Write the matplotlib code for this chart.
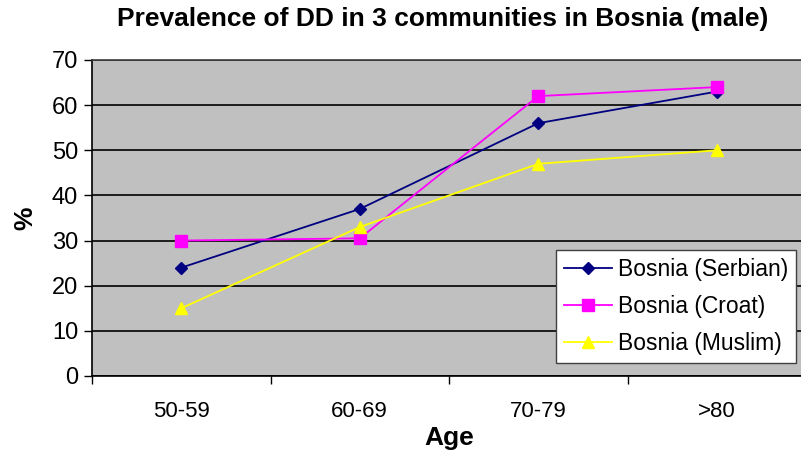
import matplotlib
matplotlib.use('Agg')
import matplotlib.pyplot as plt
import numpy as np

# Data
ages = ['50-59', '60-69', '70-79', '>80']
serbian = [24, 37, 56, 63]
croat = [30, 30.5, 62, 64]
muslim = [15, 33, 47, 50]

plt.rcParams['font.family'] = ['Liberation Sans', 'DejaVu Sans']

fig = plt.figure(figsize=(8.01, 4.57), dpi=100)
# axes placed in pixel terms: left 92, right ~806, top 60, bottom 376
W, H = 801, 457
ax = fig.add_axes([92 / W, (H - 376) / H, (806 - 92) / W, (376 - 60) / H])
ax.set_facecolor('#C0C0C0')

x = np.arange(len(ages))
ax.plot(x, serbian, color='#000080', marker='D', markersize=6, linewidth=1.3,
        label='Bosnia (Serbian)')
ax.plot(x, croat, color='#FF00FF', marker='s', markersize=8, linewidth=1.3,
        label='Bosnia (Croat)')
ax.plot(x, muslim, color='#FFFF00', marker='^', markersize=9, linewidth=1.3,
        label='Bosnia (Muslim)')

ax.set_xlim(-0.5, 3.5)
ax.set_ylim(0, 70)
ax.set_yticks(range(0, 71, 10))
ax.yaxis.grid(True, color='black', linewidth=1.2)
ax.set_axisbelow(True)

ax.set_xticks(x)
ax.set_xticklabels(ages, fontsize=16)
ax.set_xticks(np.arange(-0.5, 4, 1), minor=True)
ax.tick_params(axis='x', which='major', length=0, pad=18)
ax.tick_params(axis='x', which='minor', length=6, color='black', width=1)
ax.tick_params(axis='y', length=6, color='black', width=1, labelsize=17, pad=4)

for s in ['top', 'right']:
    ax.spines[s].set_color('#404040')
    ax.spines[s].set_linewidth(1.2)
for s in ['left', 'bottom']:
    ax.spines[s].set_color('black')
    ax.spines[s].set_linewidth(1.2)

ax.set_xlabel('Age', fontsize=19, fontweight='bold', labelpad=3)
ax.set_ylabel('%', fontsize=19, fontweight='bold', labelpad=10)
fig.text(443 / W, 1 - 19 / H, 'Prevalence of DD in 3 communities in Bosnia (male)',
         ha='center', va='center', fontsize=19, fontweight='bold')

leg = ax.legend(loc='lower right', bbox_to_anchor=((796 - 92) / (806 - 92), (376 - 363) / (376 - 60)),
                fontsize=16.5, frameon=True, fancybox=False, edgecolor='#404040',
                framealpha=1, borderpad=0.35, labelspacing=0.6, handlelength=2.1,
                handletextpad=0.25, borderaxespad=0)
leg.get_frame().set_linewidth(1)

fig.savefig('out.png', dpi=100)
